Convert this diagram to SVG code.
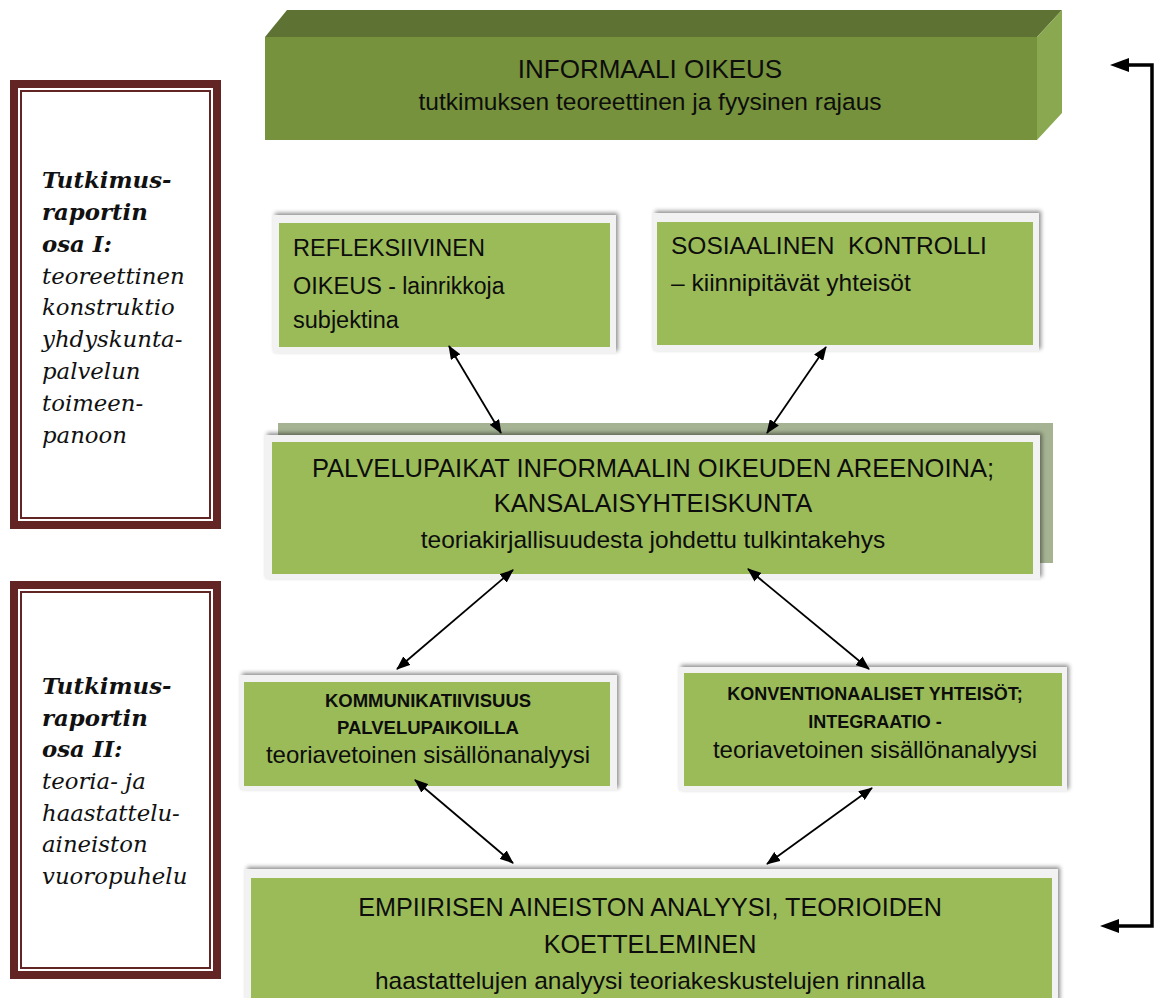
<svg xmlns="http://www.w3.org/2000/svg" width="1155" height="998" viewBox="0 0 1155 998">
<style>
.sans{font-family:"Liberation Sans",Arial,sans-serif;fill:#0d0d0d}
.serif{font-family:"DejaVu Serif","Liberation Serif",serif;font-style:italic;fill:#111;font-size:22.8px}
.b{font-weight:bold}
.frame{fill:#632523}
.inner{fill:#fff}
.thin{fill:none;stroke:#632523;stroke-width:2}
.card{fill:#f2f2f2;filter:url(#sh)}
.green{fill:#9bbb59}
.conn{stroke:#000;stroke-width:1.8;fill:none;marker-start:url(#ah);marker-end:url(#ah)}
.brk{stroke:#000;stroke-width:3.5;fill:none}
</style>
<defs>
<filter id="sh" x="-5%" y="-10%" width="110%" height="120%">
<feDropShadow dx="2" dy="-2" stdDeviation="2" flood-color="#000" flood-opacity="0.45"/>
</filter>
<marker id="ah" markerUnits="userSpaceOnUse" markerWidth="14" markerHeight="11" refX="13" refY="5.5" orient="auto-start-reverse">
<path d="M0,0 L14,5.5 L0,11 z" fill="#000"/>
</marker>
</defs>
<rect width="1155" height="998" fill="#fff"/>

<g id="informaali">
<polygon points="265,37 287,10 1062,10 1037,37" fill="#5d7233"/>
<polygon points="1037,37 1062,10 1062,113 1037,140" fill="#8aa850"/>
<rect x="265" y="37" width="772" height="103" fill="#76923c"/>
<text class="sans" x="650" y="78" font-size="26" text-anchor="middle">INFORMAALI OIKEUS</text>
<text class="sans" x="650" y="110" font-size="24.5" text-anchor="middle">tutkimuksen teoreettinen ja fyysinen rajaus</text>
</g>

<g id="osa1">
<rect class="frame" x="10" y="80" width="211" height="449"/>
<rect class="inner" x="18" y="88" width="195" height="433"/>
<rect class="thin" x="21" y="91" width="189" height="427"/>
<text class="serif" x="42"><tspan class="b" x="42" y="188">Tutkimus-</tspan><tspan class="b" x="42" y="220">raportin</tspan><tspan class="b" x="42" y="252">osa I:</tspan><tspan x="42" y="284">teoreettinen</tspan><tspan x="42" y="315">konstruktio</tspan><tspan x="42" y="347">yhdyskunta-</tspan><tspan x="42" y="379">palvelun</tspan><tspan x="42" y="411">toimeen-</tspan><tspan x="42" y="443">panoon</tspan></text>
</g>

<g id="osa2">
<rect class="frame" x="10" y="581" width="211" height="398"/>
<rect class="inner" x="18" y="589" width="195" height="382"/>
<rect class="thin" x="21" y="592" width="189" height="376"/>
<text class="serif" x="42"><tspan class="b" x="42" y="694">Tutkimus-</tspan><tspan class="b" x="42" y="726">raportin</tspan><tspan class="b" x="42" y="757">osa II:</tspan><tspan x="42" y="789">teoria- ja</tspan><tspan x="42" y="821">haastattelu-</tspan><tspan x="42" y="852">aineiston</tspan><tspan x="42" y="884">vuoropuhelu</tspan></text>
</g>

<g id="refleksiivinen">
<rect class="card" x="273" y="215" width="343" height="138"/>
<rect class="green" x="279" y="223" width="331" height="124"/>
<text class="sans" x="293" y="256" font-size="23.5">REFLEKSIIVINEN</text>
<text class="sans" x="293" y="294" font-size="23.5">OIKEUS<tspan font-size="23"> - lainrikkoja</tspan></text>
<text class="sans" x="293" y="328" font-size="23.5">subjektina</text>
</g>

<g id="sosiaalinen">
<rect class="card" x="653" y="213" width="386" height="138"/>
<rect class="green" x="657" y="222" width="376" height="123"/>
<text class="sans" x="671" y="254" font-size="24.5" xml:space="preserve">SOSIAALINEN  KONTROLLI</text>
<text class="sans" x="671" y="291" font-size="24.5">– kiinnipitävät yhteisöt</text>
</g>

<g id="palvelupaikat">
<rect x="278" y="423" width="775" height="140" fill="#a6b393"/>
<rect class="card" x="265" y="435" width="775" height="144"/>
<rect class="green" x="272" y="442" width="761" height="132"/>
<text class="sans" x="653" y="477" font-size="25.5" text-anchor="middle">PALVELUPAIKAT INFORMAALIN OIKEUDEN AREENOINA;</text>
<text class="sans" x="653" y="512" font-size="25.5" text-anchor="middle">KANSALAISYHTEISKUNTA</text>
<text class="sans" x="653" y="548" font-size="24.5" text-anchor="middle">teoriakirjallisuudesta johdettu tulkintakehys</text>
</g>

<g id="kommunikatiivisuus">
<rect class="card" x="240" y="675" width="377" height="115"/>
<rect class="green" x="244" y="682" width="366" height="104"/>
<text class="sans b" x="428" y="707" font-size="18.5" text-anchor="middle">KOMMUNIKATIIVISUUS</text>
<text class="sans b" x="428" y="734" font-size="18.5" text-anchor="middle">PALVELUPAIKOILLA</text>
<text class="sans" x="428" y="763" font-size="24" text-anchor="middle">teoriavetoinen sisällönanalyysi</text>
</g>

<g id="konventionaaliset">
<rect class="card" x="679" y="667" width="388" height="124"/>
<rect class="green" x="684" y="673" width="378" height="113"/>
<text class="sans b" x="875" y="700" font-size="18" text-anchor="middle">KONVENTIONAALISET YHTEISÖT;</text>
<text class="sans b" x="875" y="728" font-size="18" text-anchor="middle">INTEGRAATIO -</text>
<text class="sans" x="875" y="758" font-size="24" text-anchor="middle">teoriavetoinen sisällönanalyysi</text>
</g>

<g id="empiirisen">
<rect class="card" x="245" y="869" width="813" height="135"/>
<rect class="green" x="251" y="878" width="801" height="125"/>
<text class="sans" x="650" y="916" font-size="25.2" text-anchor="middle">EMPIIRISEN AINEISTON ANALYYSI, TEORIOIDEN</text>
<text class="sans" x="650" y="953" font-size="25.2" text-anchor="middle">KOETTELEMINEN</text>
<text class="sans" x="650" y="989" font-size="24.5" text-anchor="middle">haastattelujen analyysi teoriakeskustelujen rinnalla</text>
</g>

<g id="connectors">
<line class="conn" x1="449" y1="346" x2="501" y2="433"/>
<line class="conn" x1="826" y1="347" x2="767" y2="433"/>
<line class="conn" x1="513" y1="570" x2="397" y2="669"/>
<line class="conn" x1="748" y1="569" x2="869" y2="669"/>
<line class="conn" x1="415" y1="780" x2="513" y2="863"/>
<line class="conn" x1="872" y1="788" x2="767" y2="864"/>
<polyline class="brk" points="1125,65 1152,65 1152,926 1115,926"/>
<path d="M1110,65 L1129,58 L1129,72 z" fill="#000"/>
<path d="M1100,926 L1119,919 L1119,933 z" fill="#000"/>
</g>
</svg>
